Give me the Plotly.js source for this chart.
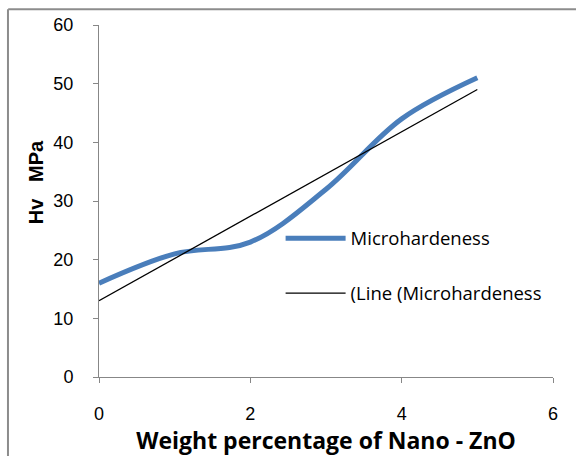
<!DOCTYPE html>
<html>
<head>
<meta charset="utf-8">
<script src="https://cdn.plot.ly/plotly-3.0.1.min.js"></script>
<style>
html,body{margin:0;padding:0;background:#fff;}
#chart{width:576px;height:456px;}
</style>
</head>
<body>
<div id="chart"></div>
<script>
// Data
const weightPct = [0, 1, 2, 3, 4, 5];
const microhardness = [16, 21, 23, 32, 44, 51];
const trendX = [0, 5];
const trendY = [13, 49];
const xTicks = [0, 2, 4, 6];
const yTicks = [0, 10, 20, 30, 40, 50, 60];
const yTitle = 'Hv\u00a0\u00a0\u00a0MPa';

const traces = [
  {
    x: weightPct, y: microhardness, type: 'scatter', mode: 'lines',
    name: 'Microhardeness', legendgroup: 'a',
    line: {color: '#4a7ebb', width: 5, shape: 'spline', smoothing: 1}
  },
  {
    x: trendX, y: trendY, type: 'scatter', mode: 'lines',
    name: '(Line (Microhardeness', legendgroup: 'b',
    line: {color: '#000000', width: 1.3}
  }
];

const layout = {
  width: 576, height: 456,
  margin: {l: 99, r: 23, t: 25, b: 79},
  paper_bgcolor: '#ffffff', plot_bgcolor: '#ffffff',
  font: {family: 'Liberation Sans, Arial, sans-serif', size: 18, color: '#000'},
  xaxis: {
    range: [0, 6], tickvals: xTicks, ticktext: xTicks.map(String),
    showgrid: false, zeroline: false, showline: true, linecolor: '#878787', linewidth: 1,
    ticks: 'outside', ticklen: 5, tickcolor: '#878787', ticklabelstandoff: 15,
    title: {text: 'Weight percentage of Nano - ZnO', font: {family: 'Open Sans, sans-serif', size: 23, color: '#000', weight: 'bold'}, standoff: 2}
  },
  yaxis: {
    range: [0, 60], tickvals: yTicks, ticktext: yTicks.map(String),
    showgrid: false, zeroline: false, showline: true, linecolor: '#878787', linewidth: 1,
    ticks: 'outside', ticklen: 5, tickcolor: '#878787', ticklabelstandoff: 16
  },
  annotations: [
    {text: yTitle, xref: 'paper', yref: 'paper', x: -0.137, y: 0.553,
     xanchor: 'center', yanchor: 'middle', textangle: -90, showarrow: false,
     font: {family: 'Liberation Sans, Arial, sans-serif', size: 20, color: '#000', weight: 'bold'}}
  ],
  showlegend: true,
  legend: {
    x: 0.40, y: 0.315, xanchor: 'left', yanchor: 'middle',
    bgcolor: 'rgba(0,0,0,0)', borderwidth: 0,
    font: {family: 'Open Sans, sans-serif', size: 18.5, color: '#000'},
    traceorder: 'grouped', tracegroupgap: 28, itemwidth: 60
  },
  shapes: [
    {type: 'line', xref: 'paper', yref: 'paper', x0: -0.2, x1: 1.2, y0: 1.045, y1: 1.045, line: {color: '#8c8c8c', width: 2}},
    {type: 'line', xref: 'paper', yref: 'paper', x0: -0.2005, x1: -0.2005, y0: -0.3, y1: 1.045, line: {color: '#8c8c8c', width: 2}}
  ]
};

Plotly.newPlot('chart', traces, layout, {displayModeBar: false, staticPlot: true});
</script>
</body>
</html>
